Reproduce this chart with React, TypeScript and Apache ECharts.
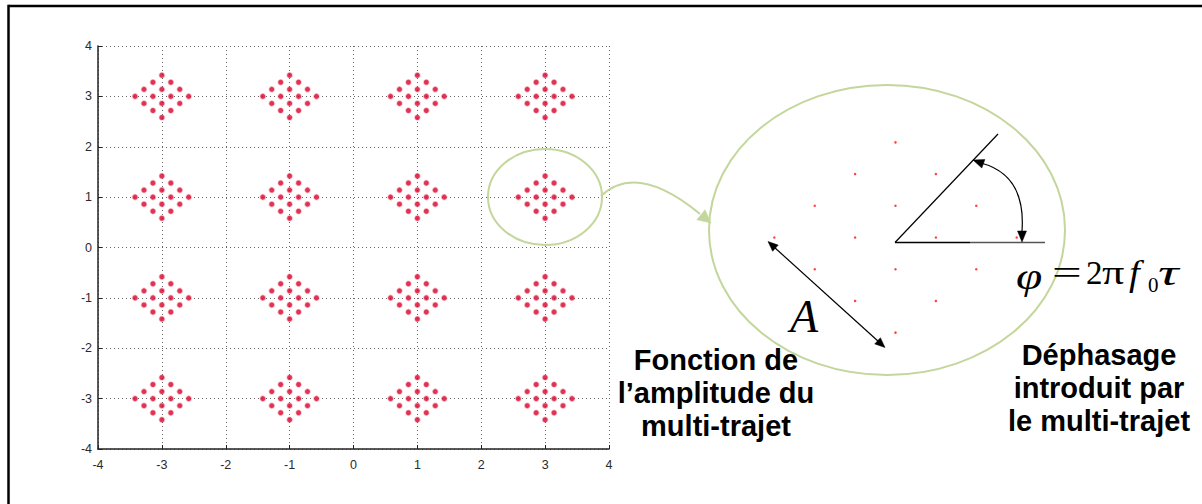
import React, { useEffect, useRef } from "react";
import * as echarts from "echarts";

// 16-QAM symbol levels on each axis (I and Q)
const qamLevels = [-3, -1, 1, 3];

// Multipath spread around each ideal symbol: a diamond of 16 received points
const clusterOffsetX = [0, -0.14, 0.14, -0.28, 0, 0.28, -0.42, -0.14, 0.14, 0.42, -0.28, 0, 0.28, -0.14, 0.14, 0];
const clusterOffsetY = [0.42, 0.28, 0.28, 0.14, 0.14, 0.14, 0, 0, 0, 0, -0.14, -0.14, -0.14, -0.28, -0.28, -0.42];

// Axis range and tick spacing of the constellation plot
const axisMin = -4;
const axisMax = 4;
const axisStep = 1;

// Annotation texts
const leftCaption = ["Fonction de", "l\u2019amplitude du", "multi-trajet"];
const rightCaption = ["Déphasage", "introduit par", "le multi-trajet"];

const GREEN = "#c3d69b";
const SERIF = "Liberation Serif";
const SANS = "Liberation Sans";

function arrowHead(tipX: number, tipY: number, fromX: number, fromY: number, len: number, half: number, color: string) {
  const dx = tipX - fromX;
  const dy = tipY - fromY;
  const d = Math.hypot(dx, dy);
  const ux = dx / d;
  const uy = dy / d;
  const bx = tipX - ux * len;
  const by = tipY - uy * len;
  return {
    type: "polygon",
    z: 110,
    shape: {
      points: [
        [tipX, tipY],
        [bx - uy * half, by + ux * half],
        [bx + uy * half, by - ux * half],
      ],
    },
    style: { fill: color, stroke: color, lineWidth: 0.5 },
  };
}

function textEl(
  text: string,
  x: number,
  y: number,
  size: number,
  family: string,
  opts: { bold?: boolean; italic?: boolean; align?: string; scaleX?: number } = {}
) {
  const align = opts.align || "center";
  return {
    type: "text",
    z: 120,
    x,
    y,
    scaleX: opts.scaleX || 1,
    style: {
      text,
      fontSize: size,
      fontFamily: family,
      fontWeight: opts.bold ? "bold" : "normal",
      fontStyle: opts.italic ? "italic" : "normal",
      fill: "#000",
      align,
      verticalAlign: "middle",
      textAlign: align,
      textVerticalAlign: "middle",
    },
  };
}

export default function App() {
  const ref = useRef<HTMLDivElement>(null);

  useEffect(() => {
    if (!ref.current) return;
    const chart = echarts.init(ref.current, undefined, { renderer: "svg" });

    const received: number[][] = [];
    qamLevels.forEach((i) => {
      qamLevels.forEach((q) => {
        clusterOffsetX.forEach((ox, k) => {
          received.push([i + ox, q + clusterOffsetY[k]]);
        });
      });
    });
    const zoomed = clusterOffsetX.map((ox, k) => [ox, clusterOffsetY[k]]);

    const tickLabel = { color: "#2a2a2a", fontSize: 12.5, fontFamily: SANS };
    const dotted = { color: "#666", width: 1, type: [1, 3] as number[] };

    const graphic: any[] = [
      // page frame
      { type: "line", z: 130, shape: { x1: 8.5, y1: 6, x2: 1202, y2: 6 }, style: { stroke: "#000", lineWidth: 2.5 } },
      { type: "line", z: 130, shape: { x1: 8.5, y1: 4.8, x2: 8.5, y2: 504 }, style: { stroke: "#000", lineWidth: 2.5 } },
      // highlighted cluster
      { type: "ellipse", z: 100, shape: { cx: 545, cy: 197, rx: 57, ry: 48 }, style: { fill: "none", stroke: GREEN, lineWidth: 2 } },
      // link to the enlarged view
      { type: "bezierCurve", z: 100, shape: { x1: 601, y1: 196, x2: 700, y2: 214, cpx1: 637, cpy1: 162 }, style: { fill: "none", stroke: GREEN, lineWidth: 2 } },
      arrowHead(711, 223, 700, 214, 13, 6.5, GREEN),
      // enlarged view
      { type: "ellipse", z: 100, shape: { cx: 887, cy: 230, rx: 178, ry: 145 }, style: { fill: "none", stroke: GREEN, lineWidth: 2 } },
      // phase angle
      { type: "line", z: 110, shape: { x1: 895, y1: 242.5, x2: 970, y2: 242.5 }, style: { stroke: "#000", lineWidth: 1.6 } },
      { type: "line", z: 110, shape: { x1: 970, y1: 242.5, x2: 1045, y2: 242.5 }, style: { stroke: "#555", lineWidth: 1.3 } },
      { type: "line", z: 110, shape: { x1: 895, y1: 242.5, x2: 998, y2: 134 }, style: { stroke: "#000", lineWidth: 1.2 } },
      { type: "bezierCurve", z: 110, shape: { x1: 981, y1: 163, x2: 1022, y2: 231, cpx1: 1026, cpy1: 175 }, style: { fill: "none", stroke: "#000", lineWidth: 1.2 } },
      arrowHead(973, 160, 984, 164, 11, 4.5, "#000"),
      arrowHead(1022, 242, 1022, 231, 11, 4.5, "#000"),
      // amplitude
      { type: "line", z: 110, shape: { x1: 774, y1: 247, x2: 879, y2: 342 }, style: { stroke: "#000", lineWidth: 1.2 } },
      arrowHead(768, 241.5, 776, 248.7, 10, 4.2, "#000"),
      arrowHead(885, 347.5, 877, 340.3, 10, 4.2, "#000"),
      textEl("A", 804, 316, 46, SERIF, { italic: true }),
      // phase formula
      textEl("\u03c6", 1016, 276, 38, SERIF, { italic: true, align: "left", scaleX: 1.25 }),
      textEl("=", 1052, 272, 34, SERIF, { align: "left", scaleX: 1.55 }),
      textEl("2", 1086, 273, 33, SERIF, { align: "left" }),
      textEl("\u03c0", 1102, 273, 34, SERIF, { align: "left", scaleX: 1.3 }),
      textEl("f", 1129, 273, 35, SERIF, { italic: true, align: "left", scaleX: 1.1 }),
      textEl("0", 1148, 285, 21, SERIF, { align: "left" }),
      textEl("\u03c4", 1158, 273, 36, SERIF, { italic: true, align: "left", scaleX: 1.6 }),
    ];
    leftCaption.forEach((t, i) => graphic.push(textEl(t, 716, 360 + i * 33, 29, SANS, { bold: true })));
    rightCaption.forEach((t, i) => graphic.push(textEl(t, 1099, 355 + i * 33, 29, SANS, { bold: true })));

    chart.setOption({
      animation: false,
      backgroundColor: "#fff",
      grid: [
        { left: 98, top: 46, width: 511, height: 403, show: false },
        { left: 607, top: 11, width: 577, height: 453, show: false },
      ],
      xAxis: [
        {
          type: "value",
          gridIndex: 0,
          min: axisMin,
          max: axisMax,
          interval: axisStep,
          axisLine: { show: true, onZero: false, lineStyle: { color: "#222", width: 1.5 } },
          axisTick: { show: true, inside: true, length: 4, lineStyle: { color: "#222" } },
          axisLabel: { ...tickLabel, margin: 9, showMinLabel: true, showMaxLabel: true },
          splitLine: { show: true, lineStyle: dotted },
        },
        { type: "value", gridIndex: 1, min: -1, max: 1, show: false },
      ],
      yAxis: [
        {
          type: "value",
          gridIndex: 0,
          min: axisMin,
          max: axisMax,
          interval: axisStep,
          axisLine: { show: true, onZero: false, lineStyle: { color: "#222", width: 1.5 } },
          axisTick: { show: true, inside: true, length: 4, lineStyle: { color: "#222" } },
          axisLabel: { ...tickLabel, margin: 6, showMinLabel: true, showMaxLabel: true },
          splitLine: { show: true, lineStyle: dotted },
        },
        { type: "value", gridIndex: 1, min: -1, max: 1, show: false },
      ],
      series: [
        {
          type: "scatter",
          xAxisIndex: 0,
          yAxisIndex: 0,
          data: received,
          symbol: "circle",
          symbolSize: 5,
          itemStyle: { color: "#d4002a", borderColor: "rgba(240,70,100,0.45)", borderWidth: 1.5 },
          z: 5,
        },
        {
          type: "scatter",
          xAxisIndex: 1,
          yAxisIndex: 1,
          data: zoomed,
          symbol: "circle",
          symbolSize: 2.5,
          itemStyle: { color: "#ff1010" },
          z: 5,
        },
      ],
      graphic,
    });

    return () => chart.dispose();
  }, []);

  return (
    <div
      ref={ref}
      style={{ position: "fixed", left: 0, top: 0, width: 1202, height: 504, background: "#fff" }}
    />
  );
}
